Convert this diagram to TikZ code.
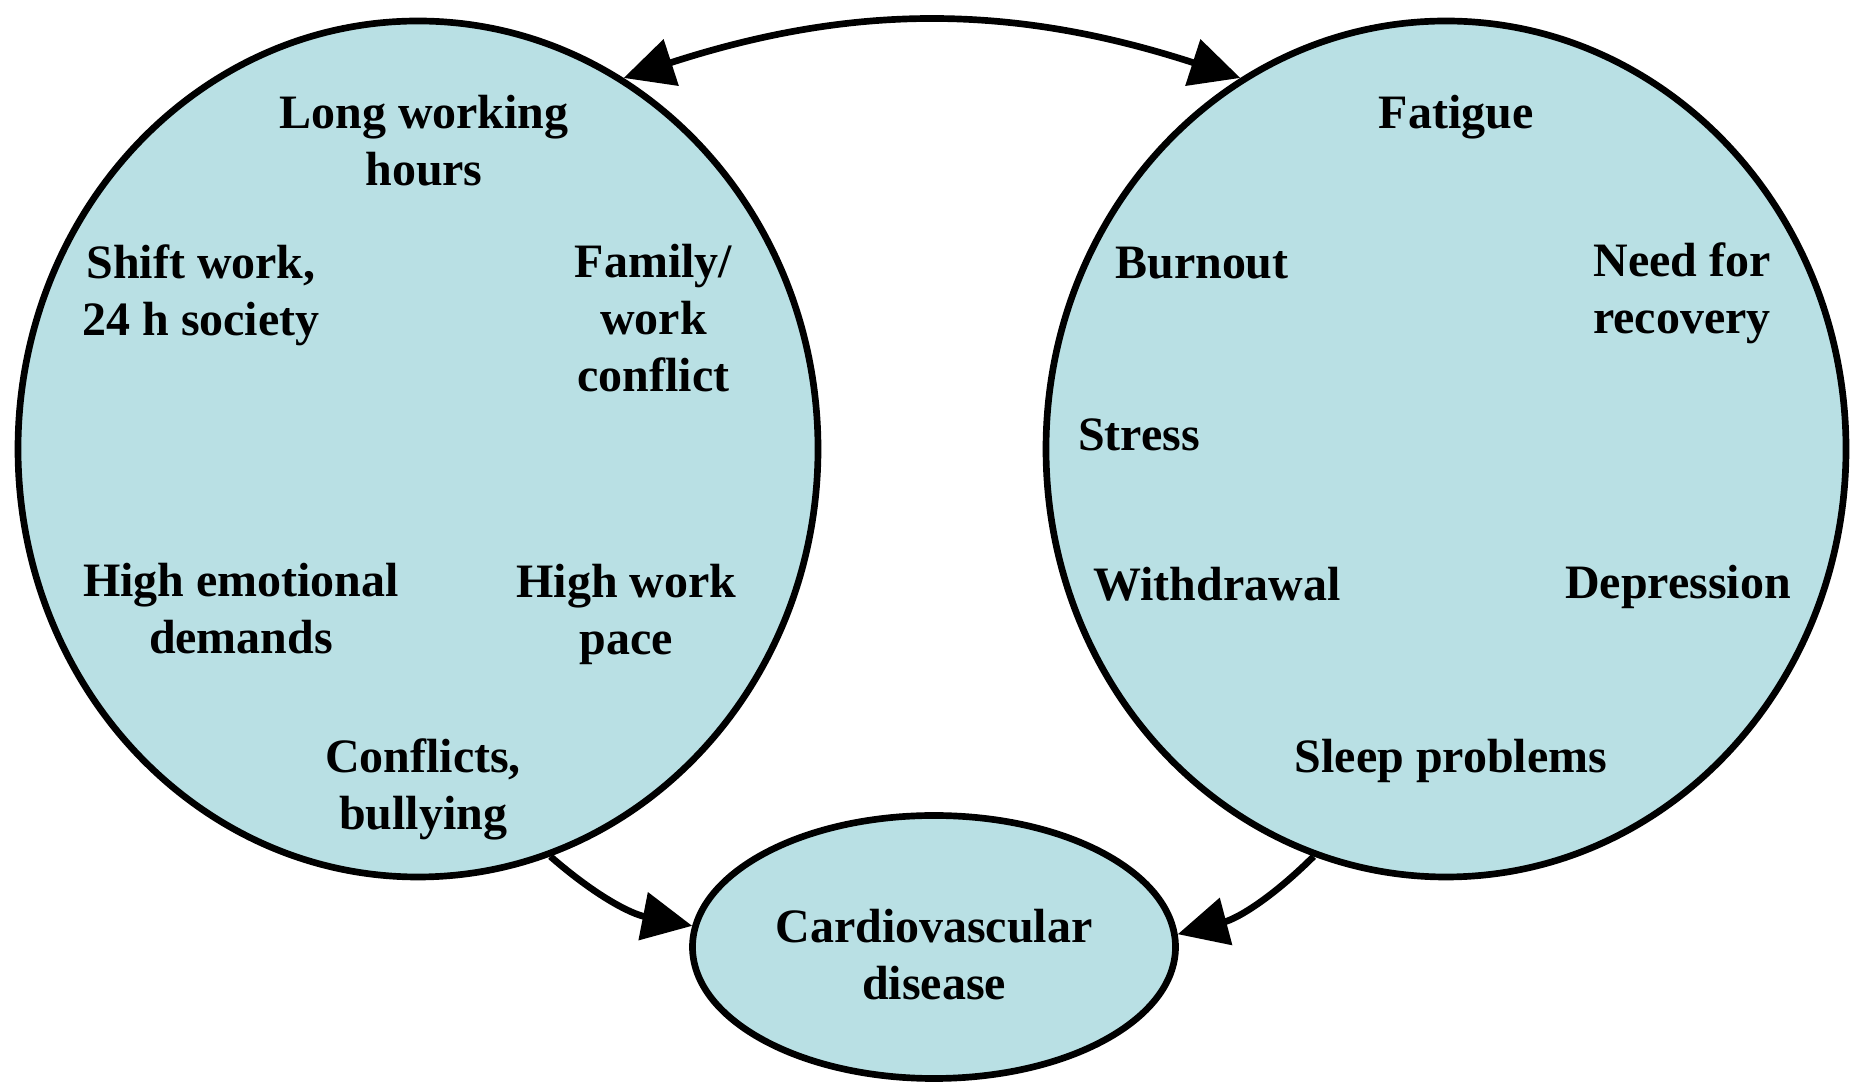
\documentclass[tikz,border=0pt]{standalone}
\usepackage{fontspec}
\setmainfont{Liberation Serif}
\usetikzlibrary{shapes.geometric,arrows.meta}
\definecolor{paleblue}{RGB}{185,224,228}

\begin{document}
\begin{tikzpicture}[
    bubble/.style={ellipse, draw=black, fill=paleblue, line width=3.8pt, inner sep=0pt},
    factor/.style={align=center, font=\fontsize{27.3}{32.4}\selectfont\bfseries},
    >={Triangle[length=1.0cm,width=0.95cm]},
    link/.style={line width=3.8pt},
  ]
  \useasboundingbox (0,0) rectangle (37.06,21.68);

  \node[bubble, minimum width=16cm, minimum height=17.12cm] (work) at (8.36, 12.70) {};
  \node[bubble, minimum width=16cm, minimum height=17.12cm] (strain) at (28.92, 12.70) {};
  \node[bubble, minimum width=9.66cm, minimum height=5.26cm] (cvd) at (18.68, 2.74) {};

  % work factors
  \node[factor] (hours) at (8.48, 18.86) {Long working\\hours};
  \node[factor] (shift) at (4.02, 15.78) {Shift work,\\24 h society};
  \node[factor] (family) at (13.07, 15.32) {Family/\\work\\conflict};
  \node[factor] (emotion) at (4.82, 9.50) {High emotional\\demands};
  \node[factor] (pace) at (12.53, 9.39) {High work\\pace};
  \node[factor] (bully) at (8.46, 5.90) {Conflicts,\\bullying};

  % strain reactions
  \node[factor] (fatigue) at (29.12, 19.34) {Fatigue};
  \node[factor] (burnout) at (24.04, 16.42) {Burnout};
  \node[factor] (recovery) at (33.64, 15.81) {Need for\\recovery};
  \node[factor] (stress) at (22.78, 12.98) {Stress};
  \node[factor] (withdraw) at (24.34, 10.00) {Withdrawal};
  \node[factor] (depress) at (33.56, 9.95) {Depression};
  \node[factor] (sleep) at (29.02, 6.47) {Sleep problems};

  \node[factor] (cvdtext) at ([yshift=-0.15cm]cvd.center) {Cardiovascular\\disease};

  \draw[link,<->] (work.61) to[bend left=18] (strain.119);
  \draw[link,->] (work.-72) to[bend right=15] (cvd.175);
  \draw[link,->] (strain.-108) to[bend left=15] (cvd.3);
\end{tikzpicture}
\end{document}
